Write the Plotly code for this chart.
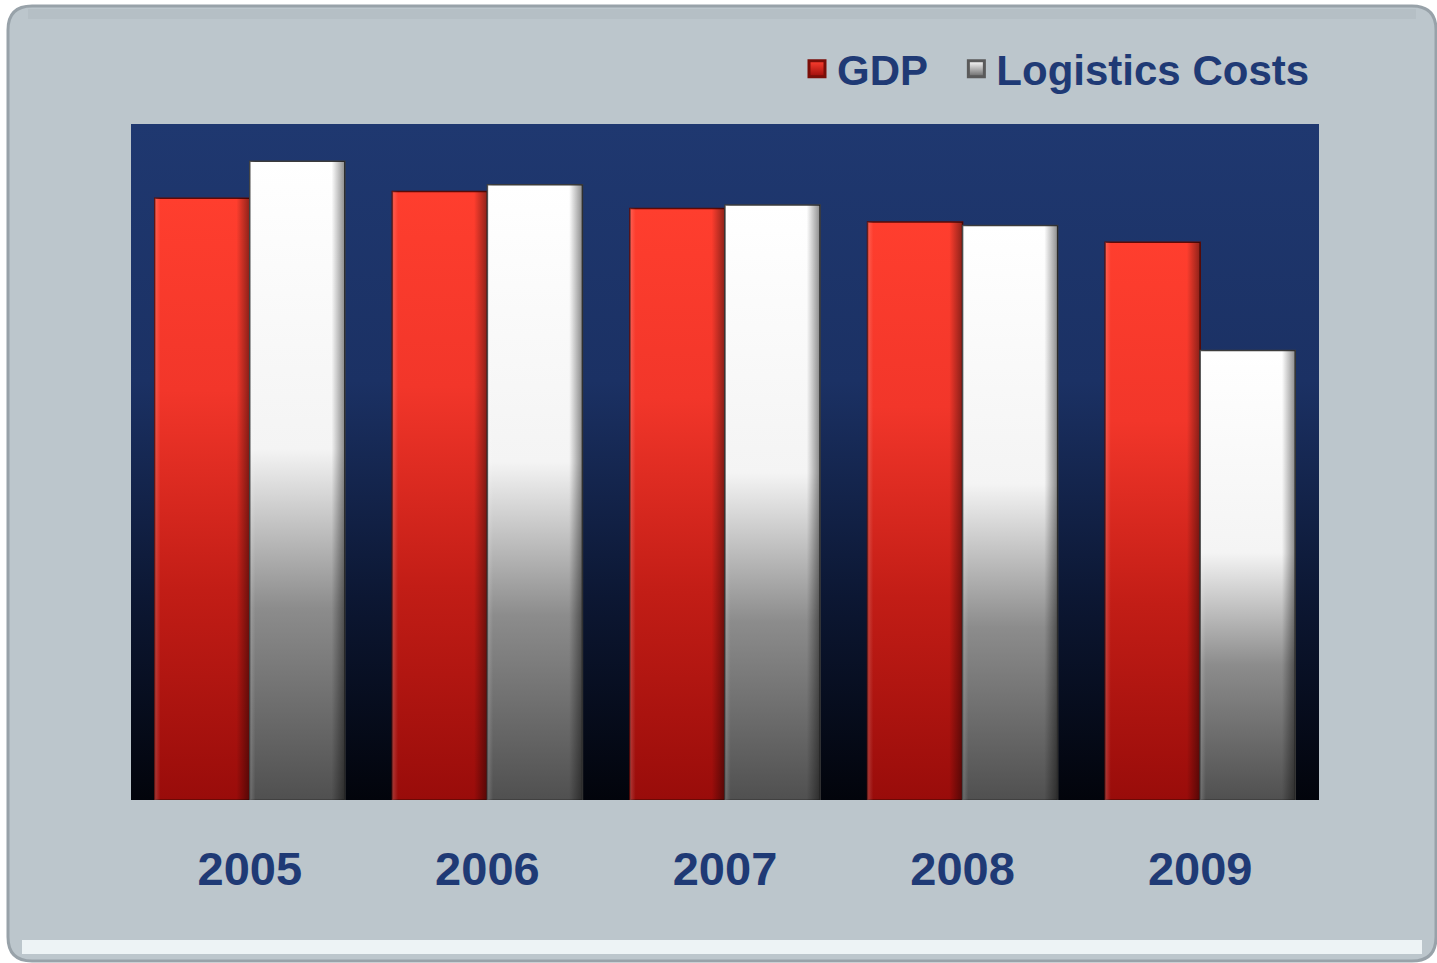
import plotly.graph_objects as go

# ---- data ----
years = ["2005", "2006", "2007", "2008", "2009"]
gdp = [17.8, 18.0, 17.5, 17.1, 16.5]
logistics = [18.9, 18.2, 17.6, 17.0, 13.3]
series_names = ["GDP", "Logistics Costs"]

Y_MAX = 20.0
BAR_W = 0.4

W, H = 1437, 963
L, R, T, B = 131, 118, 124, 163
PW, PH = W - L - R, H - T - B

TXT = "#1f3a75"
FONT = "Liberation Sans, Arial, sans-serif"

red_scale = [[0, "#990c0a"], [0.35, "#c21d16"], [0.68, "#f2362a"], [1, "#ff3e2e"]]
white_scale = [[0, "#505050"], [0.3, "#8c8c8c"], [0.55, "#f4f4f4"], [1, "#ffffff"]]
bg_scale = [[0, "#02040b"], [0.3, "#0c1733"], [0.62, "#1b3164"], [1, "#1f3870"]]
shade_scale = [[0, "rgba(255,255,255,0.18)"], [0.06, "rgba(255,255,255,0.0)"],
               [0.86, "rgba(0,0,0,0.0)"], [1, "rgba(0,0,0,0.45)"]]

fig = go.Figure()

# plot-area background gradient
fig.add_trace(go.Scatter(
    x=[-0.5, -0.5, len(years) - 0.5, len(years) - 0.5, -0.5],
    y=[0, Y_MAX, Y_MAX, 0, 0],
    fill="toself", mode="lines", line=dict(width=0),
    fillgradient=dict(type="vertical", colorscale=bg_scale),
    hoverinfo="skip", showlegend=False))

def add_bar(i, v, offset, scale, edge, name):
    x0 = i + offset
    x1 = x0 + BAR_W
    xs = [x0, x0, x1, x1, x0]
    ys = [0, v, v, 0, 0]
    fig.add_trace(go.Scatter(
        x=xs, y=ys, fill="toself", mode="lines",
        line=dict(color=edge, width=1.5),
        fillgradient=dict(type="vertical", colorscale=scale),
        name=name, hovertemplate=f"{name} {years[i]}: {v}<extra></extra>",
        showlegend=False))
    # side bevel shading
    fig.add_trace(go.Scatter(
        x=xs, y=ys, fill="toself", mode="lines", line=dict(width=0),
        fillgradient=dict(type="horizontal", colorscale=shade_scale),
        hoverinfo="skip", showlegend=False))

for i in range(len(years)):
    add_bar(i, gdp[i], -BAR_W, red_scale, "#5e0a06", series_names[0])
    add_bar(i, logistics[i], 0, white_scale, "#3c3c3c", series_names[1])

# legend entries
fig.add_trace(go.Scatter(
    x=[None], y=[None], mode="markers", name=series_names[0] + "\u00a0\u00a0",
    marker=dict(symbol="square", size=16, color="#ff4030",
                gradient=dict(type="vertical", color="#9a0c0a"),
                line=dict(color="#7a0e08", width=3))))
fig.add_trace(go.Scatter(
    x=[None], y=[None], mode="markers", name=series_names[1],
    marker=dict(symbol="square", size=16, color="#ffffff",
                gradient=dict(type="vertical", color="#666666"),
                line=dict(color="#5a5a5a", width=3))))

def px(xp):
    return (xp - L) / PW

def py(yp):
    return (H - B - yp) / PH

# rounded panel
x0, x1, y0, y1, r = 8, 1436, 6, 961, 24
path = (f"M {px(x0 + r)},{py(y0)} L {px(x1 - r)},{py(y0)} "
        f"Q {px(x1)},{py(y0)} {px(x1)},{py(y0 + r)} "
        f"L {px(x1)},{py(y1 - r)} Q {px(x1)},{py(y1)} {px(x1 - r)},{py(y1)} "
        f"L {px(x0 + r)},{py(y1)} Q {px(x0)},{py(y1)} {px(x0)},{py(y1 - r)} "
        f"L {px(x0)},{py(y0 + r)} Q {px(x0)},{py(y0)} {px(x0 + r)},{py(y0)} Z")
shapes = [
    dict(type="path", xref="paper", yref="paper", path=path,
         fillcolor="#bcc6cc", line=dict(color="#98a2a9", width=3), layer="below"),
    dict(type="line", xref="paper", yref="paper",
         x0=px(x0 + 20), x1=px(x1 - 20), y0=py(14), y1=py(14),
         line=dict(color="rgba(150,160,168,0.18)", width=10), layer="below"),
    dict(type="line", xref="paper", yref="paper",
         x0=px(x0 + 14), x1=px(x1 - 14), y0=py(947), y1=py(947),
         line=dict(color="rgba(246,250,252,0.85)", width=14), layer="below"),
]

fig.update_layout(
    width=W, height=H, autosize=False,
    margin=dict(l=L, r=R, t=T, b=B),
    paper_bgcolor="white", plot_bgcolor="rgba(0,0,0,0)",
    shapes=shapes,
    showlegend=True,
    legend=dict(orientation="h", x=px(1315), xanchor="right", y=py(69), yanchor="middle",
                font=dict(family=FONT, size=42, color=TXT, weight="bold"),
                bgcolor="rgba(0,0,0,0)", itemwidth=30, itemclick=False,
                itemdoubleclick=False),
    xaxis=dict(range=[-0.5, len(years) - 0.5], tickvals=list(range(len(years))),
               ticktext=years, showgrid=False, zeroline=False, showline=False,
               ticks="", ticklabelstandoff=37,
               tickfont=dict(family=FONT, size=47, color=TXT, weight="bold"),
               fixedrange=True),
    yaxis=dict(range=[0, Y_MAX], visible=False, showgrid=False, fixedrange=True),
    hovermode="closest",
)

fig.write_html("out.html")
